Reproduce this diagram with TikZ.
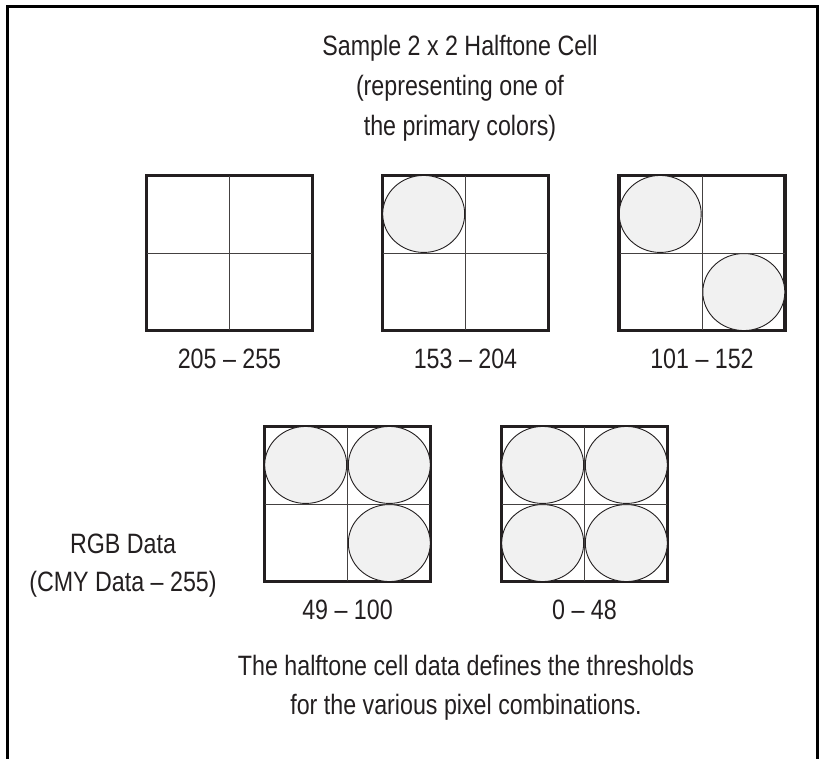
\documentclass[tikz,border=0pt]{standalone}
\usepackage{fontspec}
\setmainfont[FakeStretch=0.83]{Liberation Sans}
\usepackage{xcolor}
\usetikzlibrary{shapes.geometric, calc}

\definecolor{inkgray}{HTML}{231F20}
\definecolor{dotgray}{HTML}{F1F1F1}

\begin{document}
\begin{tikzpicture}[
  x=1pt, y=-1pt,
  cellbox/.style={rectangle, draw=inkgray, line width=2.2pt, minimum width=165pt,
                  minimum height=154pt, inner sep=0pt},
  gridline/.style={draw=inkgray!85, line width=1pt},
  dot/.style={ellipse, draw=inkgray, line width=0.9pt, fill=dotgray,
              minimum width=82pt, minimum height=77pt, inner sep=0pt},
  txt/.style={text=inkgray, font=\fontsize{28}{40}\selectfont, align=center, inner sep=0pt}
]
\useasboundingbox (0,0) rectangle (821,759);
% frame, open at the bottom
\draw[line width=3.5pt, line join=miter] (7.5,759) -- (7.5,6.5) -- (817.5,6.5) -- (817.5,759);

% title
\node[txt] (title) at (460,88) {Sample 2 x 2 Halftone Cell\\(representing one of\\the primary colors)};

% halftone cells
\node[cellbox] (c1) at (229.5,253) {};
\node[cellbox] (c2) at (465.5,253) {};
\node[cellbox] (c3) at (702,253)   {};
\node[cellbox] (c4) at (347.5,504) {};
\node[cellbox] (c5) at (584.5,504) {};
\foreach \c in {c1,c2,c3,c4,c5} {
  \draw[gridline] (\c.north) -- (\c.south);
  \draw[gridline] (\c.west) -- (\c.east);
}

% dots
\node[dot] (d2a) at ($(c2.north west)!0.5!(c2.center)$) {};
\node[dot] (d3a) at ($(c3.north west)!0.5!(c3.center)$) {};
\node[dot] (d3b) at ($(c3.south east)!0.5!(c3.center)$) {};
\node[dot] (d4a) at ($(c4.north west)!0.5!(c4.center)$) {};
\node[dot] (d4b) at ($(c4.north east)!0.5!(c4.center)$) {};
\node[dot] (d4c) at ($(c4.south east)!0.5!(c4.center)$) {};
\node[dot] (d5a) at ($(c5.north west)!0.5!(c5.center)$) {};
\node[dot] (d5b) at ($(c5.north east)!0.5!(c5.center)$) {};
\node[dot] (d5c) at ($(c5.south west)!0.5!(c5.center)$) {};
\node[dot] (d5d) at ($(c5.south east)!0.5!(c5.center)$) {};
% redraw the outlines over the dots
\foreach \c in {c1,c2,c3,c4,c5} {
  \draw[gridline] (\c.north) -- (\c.south);
  \draw[gridline] (\c.west) -- (\c.east);
  \draw[draw=inkgray, line width=2.2pt] (\c.north west) rectangle (\c.south east);
}

% range labels
\node[txt] (r1) at (229.5,359) {205 – 255};
\node[txt] (r2) at (465.5,359) {153 – 204};
\node[txt] (r3) at (702,359)   {101 – 152};
\node[txt] (r4) at (347.5,610) {49 – 100};
\node[txt] (r5) at (584.5,610) {0 – 48};

\node[txt, font=\fontsize{28}{38}\selectfont] (rgb) at (123,566) {RGB Data\\(CMY Data – 255)};

% caption
\node[txt, font=\fontsize{28}{39}\selectfont] (note) at (466,688)
  {The halftone cell data defines the thresholds\\for the various pixel combinations.};
\end{tikzpicture}
\end{document}
